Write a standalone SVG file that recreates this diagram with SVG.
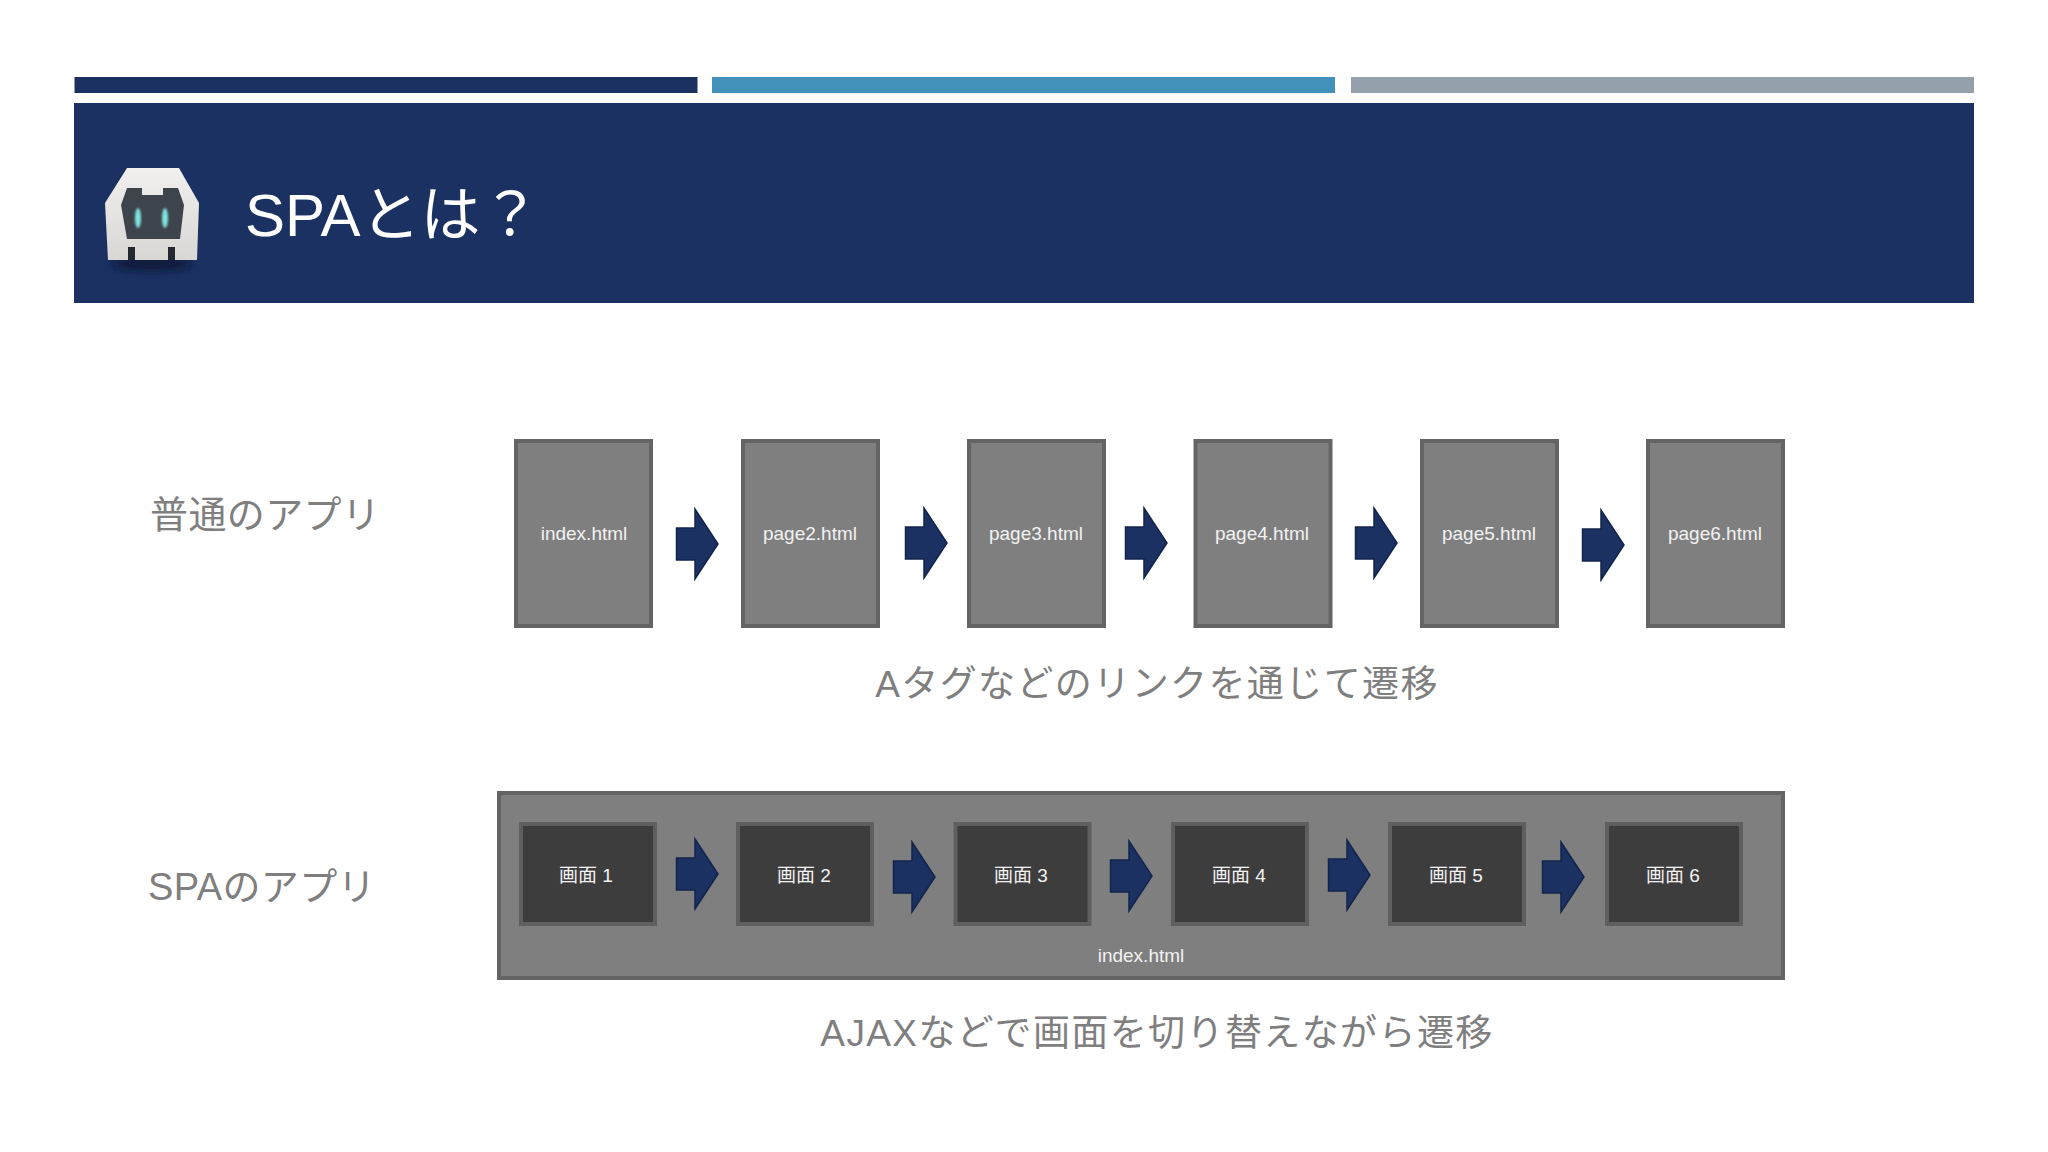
<svg xmlns="http://www.w3.org/2000/svg" width="2048" height="1152" viewBox="0 0 2048 1152">
<style>
text{font-family:"Liberation Sans","Noto Sans CJK JP",sans-serif}
.page{fill:#7f7f7f;stroke:#646464;stroke-width:4}
.screen{fill:#3e3d3e;stroke:#5f5f5f;stroke-width:4}
.lbl{fill:#f2f2f2;font-size:19px;text-anchor:middle}
.cap{fill:#7f7f7f;font-size:37px;letter-spacing:1.4px;text-anchor:middle}
.side{fill:#7f7f7f;font-size:38px;letter-spacing:.4px}
.arrow{fill:#1b3162;stroke:#12244c;stroke-width:1.5}
</style>
<defs>
<polygon id="arr" points="-20.5,-16 -2,-16 -2,-35 21,0 -2,35 -2,16 -20.5,16"/>
<filter id="b1" x="-30%" y="-100%" width="160%" height="300%"><feGaussianBlur stdDeviation="4"/></filter>
<filter id="b2" x="-100%" y="-50%" width="300%" height="200%"><feGaussianBlur stdDeviation="1.2"/></filter>
<linearGradient id="shell" x1="0" y1="0" x2="0" y2="1"><stop offset="0" stop-color="#f1f0ee"/><stop offset="1" stop-color="#d8d7d4"/></linearGradient>
</defs>
<rect width="2048" height="1152" fill="#ffffff"/>
<g id="header">
<rect x="74.500" y="77" width="623" height="16" fill="#1b3162"/>
<rect x="712" y="77" width="623" height="16" fill="#4291bb"/>
<rect x="1351" y="77" width="623" height="16" fill="#94a0ab"/>
<rect x="74" y="103" width="1900" height="200" fill="#1b3162"/>
<text x="245" y="236" font-size="60" fill="#ffffff">SPAとは？</text>
</g>
<g id="logo">
<ellipse cx="152" cy="264" rx="40" ry="6" fill="#0c1834" filter="url(#b1)"/>
<polygon points="127,168 179,168 199,203 197,260 108,260 105,203" fill="url(#shell)"/>
<polygon points="127,188 142,188 142,195 163,195 163,188 178,188 184,205 180,239 127,239 121,205" fill="#3e444c"/>
<rect x="128" y="247" width="7" height="13" fill="#232830"/>
<rect x="168" y="247" width="7" height="13" fill="#232830"/>
<ellipse cx="138" cy="218" rx="3" ry="10" fill="#7fe6e0" filter="url(#b2)"/>
<ellipse cx="165" cy="218" rx="3" ry="10" fill="#7fe6e0" filter="url(#b2)"/>
</g>
<text id="label-normal" class="side" x="150" y="528">普通のアプリ</text>
<text id="label-spa" class="side" x="148" y="900">SPAのアプリ</text>
<g id="node-index"><rect class="page" x="516" y="441" width="135" height="185"/><text class="lbl" x="584" y="540">index.html</text></g>
<g id="node-page2"><rect class="page" x="743" y="441" width="135" height="185"/><text class="lbl" x="810" y="540">page2.html</text></g>
<g id="node-page3"><rect class="page" x="969" y="441" width="135" height="185"/><text class="lbl" x="1036" y="540">page3.html</text></g>
<g id="node-page4"><rect class="page" x="1195.500" y="441" width="135" height="185"/><text class="lbl" x="1262" y="540">page4.html</text></g>
<g id="node-page5"><rect class="page" x="1422" y="441" width="135" height="185"/><text class="lbl" x="1489" y="540">page5.html</text></g>
<g id="node-page6"><rect class="page" x="1648" y="441" width="135" height="185"/><text class="lbl" x="1715" y="540">page6.html</text></g>
<text id="caption-normal" class="cap" x="1157" y="697">Aタグなどのリンクを通じて遷移</text>
<g id="node-container"><rect class="page" x="499" y="793" width="1284" height="185"/><text class="lbl" x="1141" y="962">index.html</text></g>
<g id="node-screen1"><rect class="screen" x="521" y="824" width="134" height="100"/><text class="lbl" x="586" y="882">画面 1</text></g>
<g id="node-screen2"><rect class="screen" x="738" y="824" width="134" height="100"/><text class="lbl" x="804" y="882">画面 2</text></g>
<g id="node-screen3"><rect class="screen" x="955.500" y="824" width="134" height="100"/><text class="lbl" x="1021" y="882">画面 3</text></g>
<g id="node-screen4"><rect class="screen" x="1173" y="824" width="134" height="100"/><text class="lbl" x="1239" y="882">画面 4</text></g>
<g id="node-screen5"><rect class="screen" x="1390" y="824" width="134" height="100"/><text class="lbl" x="1456" y="882">画面 5</text></g>
<g id="node-screen6"><rect class="screen" x="1607" y="824" width="134" height="100"/><text class="lbl" x="1673" y="882">画面 6</text></g>
<text id="caption-spa" class="cap" x="1157" y="1046">AJAXなどで画面を切り替えながら遷移</text>
<g id="connectors">
<use href="#arr" class="arrow" x="697" y="544"/>
<use href="#arr" class="arrow" x="926" y="543"/>
<use href="#arr" class="arrow" x="1146" y="543"/>
<use href="#arr" class="arrow" x="1376" y="543"/>
<use href="#arr" class="arrow" x="1603" y="545"/>
<use href="#arr" class="arrow" x="697" y="874"/>
<use href="#arr" class="arrow" x="914" y="877"/>
<use href="#arr" class="arrow" x="1131" y="876"/>
<use href="#arr" class="arrow" x="1349" y="875"/>
<use href="#arr" class="arrow" x="1563" y="877"/>
</g>
</svg>
